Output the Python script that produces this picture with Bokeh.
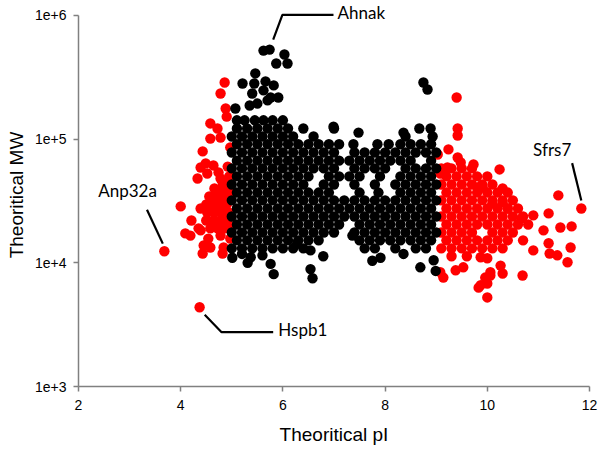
from bokeh.plotting import figure
from bokeh.models import Range1d, FixedTicker, CustomJSTickFormatter, Label
from bokeh.embed import file_html
from bokeh.resources import INLINE

# ---------------- data ----------------
x_ticks = [2, 4, 6, 8, 10, 12]
y_ticks = [1e3, 1e4, 1e5, 1e6]

# black points (pI 5-9): rows of (MW, [pI, ...])
black_rows = [
    (142000, [5.1, 5.25, 5.45, 5.62, 5.8, 6.0]),
    (122000, [5.1, 5.3, 5.5, 5.7, 5.9, 6.1, 6.4, 7.0, 8.67, 8.89]),
    (105000, [5.0, 5.2, 5.4, 5.6, 5.8, 6.0, 6.2, 6.6, 8.4, 8.93]),
    (91000, [5.1, 5.3, 5.5, 5.7, 5.9, 6.1, 6.3, 6.5, 6.7, 6.9, 7.1, 7.38, 7.85, 8.07, 8.3, 8.5, 8.7, 8.9]),
    (78000, [5.0, 5.2, 5.4, 5.6, 5.8, 6.0, 6.2, 6.4, 6.6, 6.8, 7.0, 7.4, 7.6, 7.8, 8.0, 8.2, 8.4, 8.6, 8.8, 9.0]),
    (67000, [5.1, 5.3, 5.5, 5.7, 5.9, 6.1, 6.3, 6.5, 6.7, 6.9, 7.1, 7.3, 7.5, 7.7, 7.9, 8.1, 8.3, 8.5, 8.9]),
    (58000, [5.0, 5.2, 5.4, 5.6, 5.8, 6.0, 6.2, 6.4, 6.6, 6.8, 7.0, 7.4, 7.6, 7.8, 8.0, 8.4, 8.6, 8.8, 9.0]),
    (50000, [5.1, 5.3, 5.5, 5.7, 5.9, 6.1, 6.3, 6.5, 6.9, 7.1, 7.3, 7.5, 7.9, 8.3, 8.5, 8.7, 8.9]),
    (43000, [5.0, 5.2, 5.4, 5.6, 5.8, 6.0, 6.2, 6.4, 6.8, 7.0, 7.4, 7.8, 8.2, 8.4, 8.6, 8.8, 9.0]),
    (37000, [5.1, 5.3, 5.5, 5.7, 5.9, 6.1, 6.3, 6.5, 6.7, 6.9, 7.5, 7.87, 8.3, 8.5, 8.7, 8.9]),
    (32000, [5.0, 5.2, 5.4, 5.6, 5.8, 6.0, 6.2, 6.4, 6.6, 6.8, 7.0, 7.2, 7.4, 7.6, 7.8, 8.0, 8.2, 8.4, 8.6, 8.8, 9.0]),
    (27500, [5.1, 5.3, 5.5, 5.7, 5.9, 6.1, 6.3, 6.5, 6.7, 6.9, 7.1, 7.3, 7.5, 7.7, 7.9, 8.1, 8.3, 8.5, 8.7, 8.9]),
    (23700, [5.0, 5.2, 5.4, 5.6, 5.8, 6.0, 6.2, 6.4, 6.6, 6.8, 7.0, 7.2, 7.4, 7.6, 7.8, 8.0, 8.2, 8.4, 8.6, 8.8, 9.0]),
    (20400, [5.1, 5.3, 5.5, 5.7, 5.9, 6.1, 6.3, 6.5, 6.7, 6.9, 7.1, 7.5, 7.7, 7.9, 8.1, 8.3, 8.5, 8.7, 8.9]),
    (17600, [5.0, 5.2, 5.4, 5.6, 5.8, 6.0, 6.2, 6.4, 6.6, 6.8, 7.0, 7.4, 7.6, 7.8, 8.0, 8.2, 8.4, 8.6, 8.8, 9.0]),
    (15200, [5.1, 5.3, 5.5, 5.7, 5.9, 6.1, 6.3, 6.5, 6.7, 7.5, 7.7, 7.9, 8.1, 8.3, 8.5, 8.7, 8.9]),
    (13100, [5.0, 5.2, 5.4, 5.6, 5.8, 6.0, 6.2, 6.4, 7.6, 7.8, 8.2, 8.6, 8.8]),
]

# scattered black points (pI, MW)
black_extra = [
    (5.62, 520000), (5.74, 530000), (6.03, 484000), (6.09, 409000), (5.87, 409000),
    (5.46, 340000), (5.21, 282000), (5.44, 282000), (5.66, 293000), (5.82, 272000),
    (5.40, 234000), (5.62, 248000), (5.76, 217000), (5.91, 217000), (5.07, 177000),
    (5.35, 187000), (5.50, 194000), (5.70, 206000), (8.75, 287000), (8.83, 252000),
    (7.48, 113000), (8.36, 113000), (6.99, 126000),
    (5.01, 11000), (5.20, 11800), (5.31, 10000), (5.37, 11100), (5.60, 11500),
    (5.76, 9800), (5.82, 8100), (6.28, 14400), (6.54, 12600), (6.79, 11300),
    (6.54, 8900), (6.58, 7500), (7.36, 16600), (7.75, 10400), (7.91, 11000),
    (8.36, 11800), (8.69, 9200), (8.95, 10500), (8.99, 8600),
]

# red points, acidic side (pI < 5): dense rows of (MW, [pI, ...])
red_rows_left = [
    (39900, [4.66, 4.80, 4.94]),
    (34400, [4.56, 4.70, 4.84, 4.96]),
    (29600, [4.50, 4.62, 4.76, 4.90]),
    (25500, [4.52, 4.66, 4.80, 4.94]),
    (22000, [4.50, 4.64, 4.78, 4.92]),
    (19000, [4.58, 4.72, 4.86, 4.97]),
]

# red points, basic side (pI > 9): dense rows of (MW, [pI, ...])
red_rows_right = [
    (58000, [9.1, 9.3, 9.5, 9.7]),
    (50000, [9.2, 9.4, 9.6, 9.8, 10.0]),
    (43000, [9.1, 9.3, 9.5, 9.7, 9.9, 10.1]),
    (37000, [9.2, 9.4, 9.6, 9.8, 10.0, 10.2, 10.4]),
    (32000, [9.1, 9.3, 9.5, 9.7, 9.9, 10.1, 10.3, 10.5]),
    (27500, [9.2, 9.4, 9.6, 9.8, 10.0, 10.2, 10.4, 10.6]),
    (23700, [9.1, 9.3, 9.5, 9.7, 9.9, 10.1, 10.3, 10.5, 10.7]),
    (20400, [9.2, 9.4, 9.6, 9.8, 10.0, 10.2, 10.4, 10.6, 10.8]),
    (17600, [9.1, 9.3, 9.5, 9.7, 10.1, 10.3, 10.5]),
    (15200, [9.2, 9.4, 9.6, 9.8, 10.0, 10.2, 10.4, 10.7]),
    (13100, [9.1, 9.3, 9.5, 9.7, 9.9, 10.1, 10.3]),
    (11300, [9.3, 9.6]),
]

# scattered red points (pI, MW)
red_extra = [
    # acidic side
    (4.86, 287000), (4.78, 234000), (4.88, 177000), (4.90, 152000), (4.58, 134000),
    (4.72, 122000), (4.58, 101000), (4.78, 103000), (4.97, 85700), (4.43, 79600),
    (4.49, 63700), (4.64, 61300), (4.39, 59000), (4.33, 48100), (4.52, 52800),
    (4.74, 53800), (4.78, 48100), (4.82, 44700), (4.92, 60000), (4.95, 50000),
    (4.90, 42000), (4.00, 28600), (4.39, 27500), (4.21, 22000), (4.09, 17300),
    (4.19, 16600), (4.35, 19000), (4.54, 15700), (4.45, 13800), (4.58, 13300),
    (4.78, 16600), (4.84, 13300), (4.82, 11900), (4.43, 11900), (4.39, 18300),
    (4.97, 15700),
    (3.68, 12400),   # Anp32a
    (4.37, 4370),    # Hspb1
    # basic side
    (9.40, 217000), (9.42, 122000), (9.42, 107000), (9.24, 82600), (9.03, 75200),
    (9.42, 71100), (9.48, 64800), (9.73, 62400), (10.24, 56900), (9.22, 59000),
    (9.08, 52800), (9.81, 40700), (9.91, 40700), (10.30, 39900), (10.10, 30200),
    (10.30, 30800), (10.40, 27500), (10.67, 22900), (10.90, 24200), (11.20, 25100),
    (11.39, 35100), (11.43, 19300), (11.65, 19700), (11.10, 18300), (11.20, 14400),
    (11.22, 11900), (11.37, 11500), (11.63, 13300), (11.57, 10100), (10.90, 12600),
    (10.69, 7900), (10.26, 9500), (10.30, 8200), (10.06, 8400), (9.96, 7600),
    (9.87, 6600), (10.00, 6800), (10.00, 5250), (9.14, 7600), (9.08, 8400),
    (9.38, 8700), (9.53, 9200), (9.87, 11100), (10.00, 10900), (10.06, 7900),
    (9.83, 6300),
    (11.84, 27500),  # Sfrs7
]

# callout labels and leader lines (pI, MW)
ahnak_text = (7.07, 1.067e6)
ahnak_line_pi = [5.81, 5.99, 6.99]
ahnak_line_mw = [637000, 1.01e6, 1.01e6]
anp_text = (2.96, 38500)
anp_line_pi = [3.34, 3.65]
anp_line_mw = [26900, 14300]
hspb_text = (5.91, 2900)
hspb_line_pi = [4.47, 4.80, 5.81]
hspb_line_mw = [3800, 2750, 2750]
sfrs_text = (11.27, 82600)
sfrs_line_pi = [11.66, 11.84]
sfrs_line_mw = [64000, 31900]


def flatten(rows, extra):
    xs, ys = [], []
    for mw, pis in rows:
        for pi in pis:
            xs.append(pi)
            ys.append(mw)
    for pi, mw in extra:
        xs.append(pi)
        ys.append(mw)
    return xs, ys


bx, by = flatten(black_rows, black_extra)
rx, ry = flatten(red_rows_left + red_rows_right, red_extra)

# ---------------- figure ----------------
p = figure(width=598, height=448,
           x_range=Range1d(2, 12), y_range=Range1d(1000, 1.25e6),
           y_axis_type="log",
           output_backend="svg", toolbar_location=None,
           min_border_left=78, min_border_right=9,
           min_border_top=3, min_border_bottom=62)
p.outline_line_color = None
p.grid.visible = False
p.background_fill_color = "white"

p.scatter(rx, ry, size=10.4, fill_color="#ff0000", line_color=None)
p.scatter(bx, by, size=10.4, fill_color="#000000", line_color=None)

for xs, ys in ((ahnak_line_pi, ahnak_line_mw), (anp_line_pi, anp_line_mw),
               (hspb_line_pi, hspb_line_mw), (sfrs_line_pi, sfrs_line_mw)):
    p.line(xs, ys, line_color="black", line_width=2.2)

lab_font = "Lato"
lab_size = "17px"
for (tx, ty), txt, align in ((ahnak_text, "Ahnak", "left"), (anp_text, "Anp32a", "center"),
                             (hspb_text, "Hspb1", "left"), (sfrs_text, "Sfrs7", "center")):
    p.add_layout(Label(x=tx, y=ty, text=txt, text_align=align, text_baseline="middle",
                       text_font=lab_font, text_font_size=lab_size, text_color="#000000"))

p.xaxis.ticker = FixedTicker(ticks=x_ticks)
p.yaxis.ticker = FixedTicker(ticks=y_ticks)
p.yaxis.formatter = CustomJSTickFormatter(code="return '1e+' + Math.round(Math.log10(tick));")
p.xaxis.bounds = (2, 12)
p.yaxis.bounds = (1000, 1e6)
p.xaxis.axis_label = "Theoritical pI"
p.yaxis.axis_label = "Theoritical MW"

for ax in (p.xaxis[0], p.yaxis[0]):
    ax.axis_line_color = "#808080"
    ax.axis_line_width = 1.5
    ax.major_tick_line_color = "#808080"
    ax.major_tick_line_width = 1.5
    ax.major_tick_out = 5
    ax.major_tick_in = 0
    ax.minor_tick_line_color = None
    ax.major_label_text_font = "Liberation Sans"
    ax.major_label_text_font_size = "14px"
    ax.major_label_text_color = "#000000"
    ax.axis_label_text_font = "Liberation Sans"
    ax.axis_label_text_font_size = "19px"
    ax.axis_label_text_font_style = "normal"
    ax.axis_label_text_color = "#000000"

p.xaxis.major_label_standoff = 8
p.xaxis.axis_label_standoff = 11
p.yaxis.major_label_standoff = 7
p.yaxis.axis_label_standoff = 5

open("out.html", "w").write(file_html(p, INLINE))
